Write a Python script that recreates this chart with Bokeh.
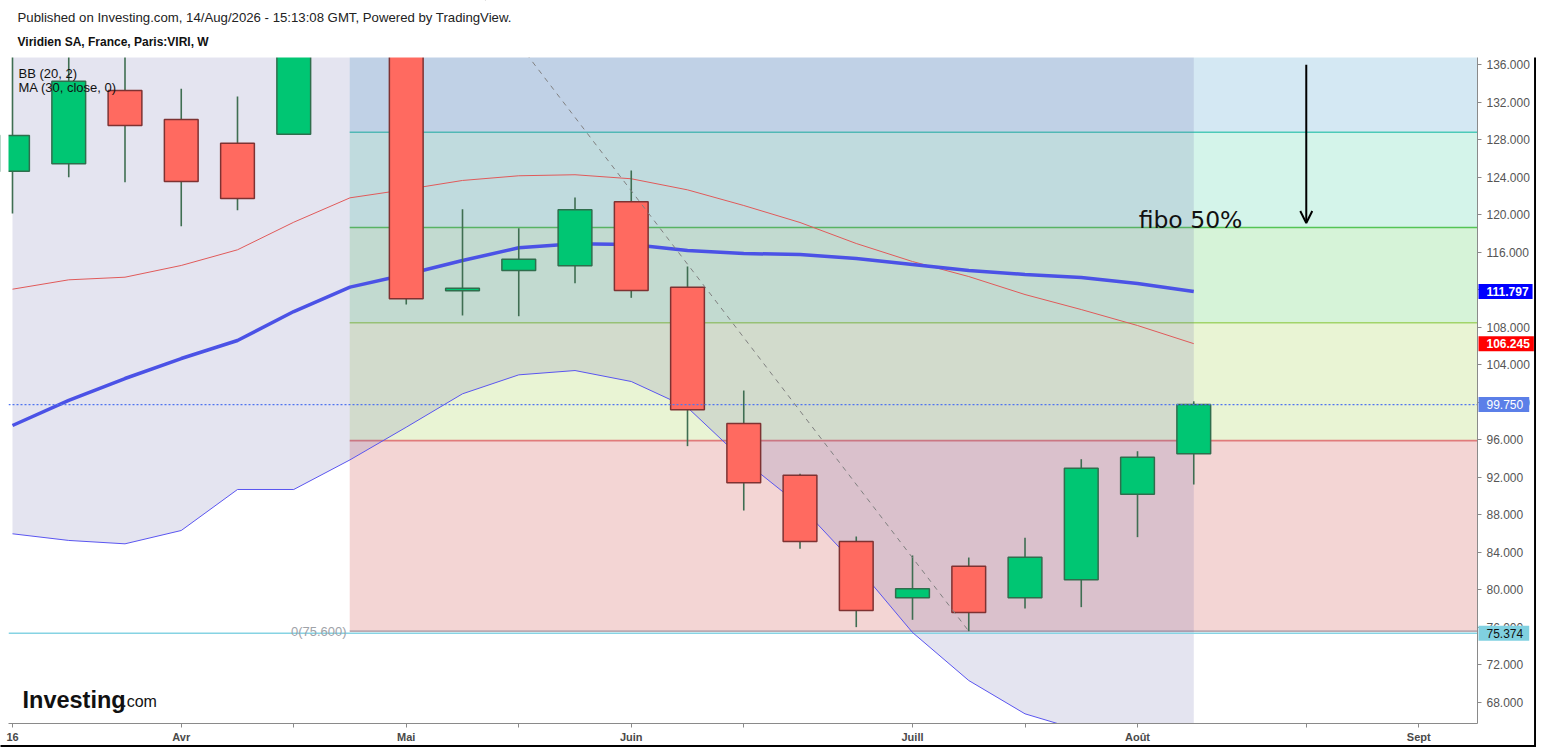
from bokeh.plotting import figure
from bokeh.models import (Range1d, FixedTicker, Label, Arrow, OpenHead, LinearAxis,
                          ColumnDataSource, NumeralTickFormatter)
from bokeh.embed import file_html
from bokeh.resources import INLINE

# ---------------- data (weekly bars, index 0 = week of 16 March) ----------------
weeks = list(range(22))
opens = [124.63, 125.42, 133.23, 130.14, 127.61, 128.57, 148.00, 150.00, 111.88, 114.04, 114.54,
         121.37, 112.26, 97.73, 92.23, 85.16, 79.16, 82.53, 79.16, 81.07, 90.20, 94.50]
closes = [128.43, 134.22, 129.50, 123.53, 121.72, 148.00, 150.00, 111.03, 112.16, 115.25, 120.51,
          111.91, 99.19, 91.41, 85.16, 77.80, 80.12, 77.59, 83.49, 92.97, 94.14, 99.75]
highs = [138.00, 139.00, 137.50, 133.41, 132.59, 150.00, 161.66, 152.00, 120.58, 118.55, 121.82,
         124.70, 114.47, 101.25, 92.37, 85.69, 83.67, 83.45, 85.55, 93.93, 94.78, 100.10]
lows = [120.12, 123.99, 123.46, 118.77, 120.47, 128.57, 146.00, 110.42, 109.25, 109.17, 112.69,
        111.13, 95.32, 88.46, 84.38, 76.03, 76.81, 75.60, 78.02, 78.16, 85.62, 91.23]

ma30 = [97.52, 100.19, 102.53, 104.66, 106.58, 109.67, 112.27, 113.62, 115.11, 116.46, 116.89,
        116.81, 116.17, 115.85, 115.75, 115.32, 114.68, 114.04, 113.62, 113.30, 112.66, 111.797]
bb_basis = [112.05, 113.05, 113.33, 114.58, 116.25, 119.19, 121.79, 122.68, 123.64, 124.14, 124.25,
            123.82, 122.64, 120.97, 119.16, 116.92, 115.00, 113.40, 111.48, 109.88, 108.18, 106.245]
bb_lower = [85.98, 85.27, 84.91, 86.33, 90.70, 90.70, 93.86, 97.34, 100.90, 102.92, 103.38,
            102.21, 99.44, 93.79, 89.00, 82.60, 75.46, 70.34, 66.79, 65.00, 63.90, 63.10]

x_tick_pos = [0, 3, 5, 7, 9, 11, 13, 16, 18, 20, 23, 25]
x_tick_labels = ["16", "Avr", "", "Mai", "", "Juin", "", "Juill", "", "Août", "", "Sept"]
price_ticks = list(range(68, 137, 4))

fib_start_week = 6
fib_end_week = 17
fib_low = 75.6
fib_high = 161.66
fib_ratios = [0.0, 0.236, 0.382, 0.5, 0.618, 0.786]
fib_band_colors = ["#f3d5d4", "#e9f4d4", "#d6f3d8", "#d4f4ea", "#d4e8f3"]
fib_line_colors = ["#bca8b0", "#e07b7b", "#a2d46a", "#55c455", "#4ccab8", "#64b5f6"]

last_price = 99.75
hline_price = 75.374

# visible price window / time window of the chart pane
y_lo, y_hi = 65.76, 136.75
x_lo, x_hi = -0.071, 26.044
cap = y_hi + 1.0   # values beyond the pane are cut there before drawing

# ---------------- figure ----------------
p = figure(width=1536, height=747,
           x_range=Range1d(-0.2133, 27.093), y_range=Range1d(63.20, 142.822),
           x_axis_location=None, y_axis_location=None,
           output_backend="svg", toolbar_location=None,
           min_border_left=0, min_border_right=0, min_border_top=0, min_border_bottom=0)
p.xgrid.visible = False
p.ygrid.visible = False
p.outline_line_color = None
p.background_fill_color = "white"
p.border_fill_color = "white"

# fibonacci bands (extended right)
fib_vals = [fib_low + r * (fib_high - fib_low) for r in fib_ratios]
p.quad(left=fib_start_week - 0.005, right=x_hi, bottom=fib_vals[:-1],
       top=[min(v, cap) for v in fib_vals[1:]],
       fill_color=fib_band_colors, line_color=None)
p.segment(x0=fib_start_week - 0.005, x1=x_hi, y0=fib_vals, y1=fib_vals,
          line_color=fib_line_colors, line_width=1.6)

# Bollinger background (from lower band upward)
p.varea(x=weeks, y1=bb_lower, y2=[cap] * len(weeks), fill_color=(108, 108, 174), fill_alpha=0.18)

# horizontal price line
p.segment(x0=x_lo, x1=x_hi, y0=hline_price, y1=hline_price, line_color="#86d3e3", line_width=1.6)

# indicator lines
p.line(weeks, bb_basis, line_color="#e05a5a", line_width=1)
p.line(weeks, bb_lower, line_color="#5a55f0", line_width=1)
p.line(weeks, ma30, line_color="#4b52e6", line_width=3.5)

# candles
inc = [o <= c for o, c in zip(opens, closes)]
src = ColumnDataSource(dict(
    x=weeks,
    h=[min(h, cap) for h in highs],
    l=[min(l, cap) for l in lows],
    top=[min(max(o, c), cap) for o, c in zip(opens, closes)],
    bot=[min(min(o, c), cap) for o, c in zip(opens, closes)],
    fill=["#00c673" if i else "#ff6a60" for i in inc],
    edge=["#2f6e4d" if i else "#7e3232" for i in inc],
))
p.segment(x0="x", x1="x", y0="l", y1="h", source=src, line_color="#3f6e52", line_width=1.6)
p.vbar(x="x", width=0.6, top="top", bottom="bot", source=src,
       fill_color="fill", line_color="edge", line_width=1.5)

# last price dotted line
p.segment(x0=x_lo, x1=x_hi, y0=last_price, y1=last_price, line_color="#4f74f0",
          line_width=1.2, line_dash="2 2")

# fib trend (dashed diagonal)
p.line([fib_start_week, fib_end_week], [fib_high, fib_low], line_color="#808080", line_width=1,
       line_dash="5 5")

# white masks outside the chart pane (the pane clips its content)
p.quad(left=[-1, -1, -1, x_hi], right=[30, 30, x_lo, 30],
       bottom=[y_hi, 50, 50, 50], top=[160, y_lo, 160, 160],
       fill_color="white", line_color=None)

# page frame lines (right and bottom)
p.segment(x0=[27.067, -1], x1=[27.067, 30], y0=[y_hi, 63.36], y1=[50, 63.36],
          line_color="black", line_width=2)

# arrow and annotation
p.add_layout(Arrow(end=OpenHead(size=12, line_width=2, line_color="black"),
                   x_start=23.0, y_start=135.97, x_end=23.0, y_end=119.1,
                   line_width=2, line_color="black"))
p.add_layout(Label(x=20.02, y=119.4, text="fibo 50%", text_font="DejaVu Sans",
                   text_font_size="23.5px", text_color="#111111", text_baseline="alphabetic"))

p.add_layout(Label(x=5.94, y=75.6, text="0(75.600)", text_font="Liberation Sans",
                   text_font_size="13px", text_color="#9ea2a8", text_align="right",
                   text_baseline="middle"))

# legend texts
p.add_layout(Label(x=0.107, y=135.04, text="BB (20, 2)", text_font="Liberation Sans",
                   text_font_size="13px", text_color="#111111", text_baseline="middle"))
p.add_layout(Label(x=0.107, y=133.6, text="MA (30, close, 0)", text_font="Liberation Sans",
                   text_font_size="13px", text_color="#111111", text_baseline="middle"))

# header
p.add_layout(Label(x=0.089, y=141.0, text="Published on Investing.com, 14/Aug/2026 - 15:13:08 GMT, Powered by TradingView.",
                   text_font="Liberation Sans", text_font_size="13.2px", text_color="#222222",
                   text_baseline="middle"))
p.add_layout(Label(x=0.089, y=138.45, text="Viridien SA, France, Paris:VIRI, W",
                   text_font="Liberation Sans", text_font_size="12px", text_font_style="bold",
                   text_color="#111111", text_baseline="middle"))

# logo
p.add_layout(Label(x=0.178, y=68.3, text="Investing", text_font="Liberation Sans",
                   text_font_size="23.5px", text_font_style="bold", text_color="#111111",
                   text_baseline="middle"))
p.add_layout(Label(x=1.95, y=68.1, text=".com", text_font="Liberation Sans",
                   text_font_size="16px", text_color="#111111", text_baseline="middle"))

# axes (pinned to the pane edges)
yaxis = LinearAxis(fixed_location=x_hi, bounds=(y_lo, y_hi))
yaxis.ticker = FixedTicker(ticks=price_ticks)
yaxis.formatter = NumeralTickFormatter(format="0.000")
yaxis.major_label_text_font = "Liberation Sans"
yaxis.major_label_text_font_size = "12px"
yaxis.major_label_text_color = "#555555"
yaxis.axis_line_color = "#8a8a8a"
yaxis.major_tick_line_color = "#8a8a8a"
yaxis.major_tick_out = 4
yaxis.major_tick_in = 0
yaxis.minor_tick_line_color = None
yaxis.major_label_standoff = 5
p.add_layout(yaxis, "right")

xaxis = LinearAxis(fixed_location=y_lo, bounds=(x_lo, x_hi))
xaxis.ticker = FixedTicker(ticks=x_tick_pos)
xaxis.major_label_overrides = {k: v for k, v in zip(x_tick_pos, x_tick_labels)}
xaxis.major_label_text_font = "Liberation Sans"
xaxis.major_label_text_font_size = "11px"
xaxis.major_label_text_font_style = "bold"
xaxis.major_label_text_color = "#4a4a4a"
xaxis.axis_line_color = "#8a8a8a"
xaxis.major_tick_line_color = "#8a8a8a"
xaxis.major_tick_out = 4
xaxis.major_tick_in = 0
xaxis.minor_tick_line_color = None
xaxis.major_label_standoff = 4
p.add_layout(xaxis, "below")

# price tags on the right scale
def tag(price, txt, bg, fg, bold):
    p.add_layout(Label(x=26.062, y=price, text=txt, text_font="Liberation Sans",
                       text_font_size="12px", text_font_style="bold" if bold else "normal",
                       text_color=fg, background_fill_color=bg, text_baseline="middle",
                       text_align="left",
                       padding=dict(left=8, right=4 if bold else 6, top=3, bottom=3)))

tag(ma30[-1], "111.797", "#0000ff", "white", True)
tag(bb_basis[-1], "106.245", "#ff0000", "white", True)
tag(last_price, "99.750", "#5b7fe8", "white", False)
tag(hline_price, "75.374", "#80d0e0", "#111111", False)

open("out.html", "w").write(file_html(p, INLINE))
